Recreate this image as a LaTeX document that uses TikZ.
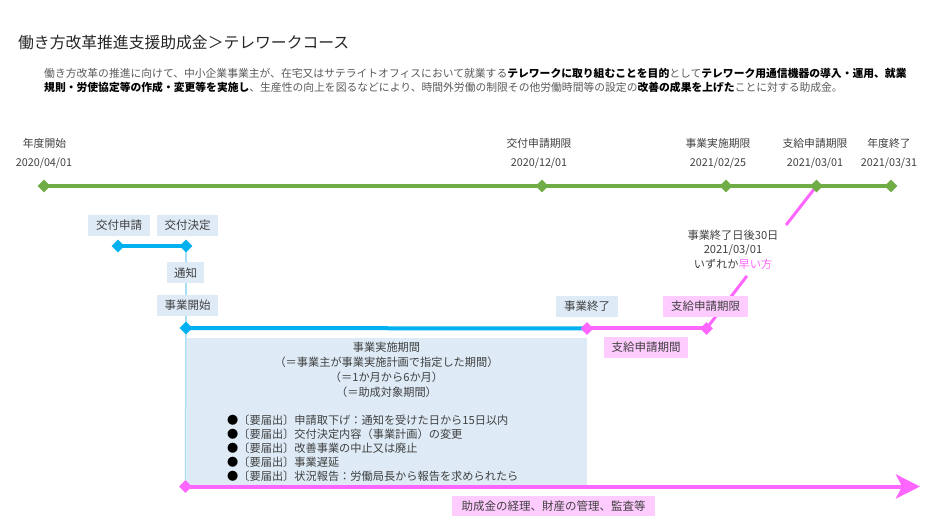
\documentclass[tikz,border=0pt]{standalone}
\usepackage{fontspec}
\setmainfont{Noto Sans CJK JP}
\usetikzlibrary{shapes.geometric,arrows.meta,backgrounds}
\definecolor{tlgreen}{HTML}{70AD47}
\definecolor{tlblue}{HTML}{00B0F0}
\definecolor{tlpink}{HTML}{FF66FF}
\definecolor{boxblue}{HTML}{DEEBF7}
\definecolor{boxpink}{HTML}{FFCCFF}
\definecolor{vlinec}{HTML}{A9DDF5}
\definecolor{txtc}{HTML}{404040}
\definecolor{descc}{HTML}{595959}
\begin{document}
\begin{tikzpicture}[x=1pt,y=-1pt,
  dia/.style={diamond, inner sep=0pt, minimum width=13pt, minimum height=13pt},
  gdia/.style={dia, fill=tlgreen},
  bdia/.style={dia, fill=tlblue},
  pdia/.style={dia, fill=tlpink},
  tl/.style={font=\fontsize{10.8}{12}\selectfont, text=txtc, inner sep=0pt},
  lbox/.style={fill=boxblue, text=txtc, font=\fontsize{11.5}{13}\selectfont, minimum height=21pt, inner sep=0pt},
  pbox/.style={fill=boxpink, text=txtc, font=\fontsize{11.5}{13}\selectfont, minimum height=21pt, inner sep=0pt},
  desctext/.style={font=\fontsize{10.8}{14}\selectfont, text=descc, inner sep=0pt, anchor=base west},
]
\useasboundingbox (0,0) rectangle (940,526);

% title and description
\node[anchor=west, font=\fontsize{15.8}{18}\selectfont, text=black!85, inner sep=0pt] (title) at (18,43) {働き方改革推進支援助成金＞テレワークコース};
\node[desctext] (desc1) at (44,77.5) {働き方改革の推進に向けて、中小企業事業主が、在宅又はサテライトオフィスにおいて就業する{\color{black}\bfseries テレワークに取り組むことを目的}として{\color{black}\bfseries テレワーク用通信機器の導入・運用、就業}};
\node[desctext] (desc2) at (44,91.5) {{\color{black}\bfseries 規則・労使協定等の作成・変更等を実施し}、生産性の向上を図るなどにより、時間外労働の制限その他労働時間等の設定の{\color{black}\bfseries 改善の成果を上げた}ことに対する助成金。};

% fiscal year timeline labels
\node[tl] (l1a) at (44.5,143) {年度開始};
\node[tl] (l1b) at (44,163) {2020/04/01};
\node[tl] (l2a) at (539,143) {交付申請期限};
\node[tl] (l2b) at (539,163) {2020/12/01};
\node[tl] (l3a) at (718,143) {事業実施期限};
\node[tl] (l3b) at (718,163) {2021/02/25};
\node[tl] (l4a) at (815,143) {支給申請期限};
\node[tl] (l4b) at (815,163) {2021/03/01};
\node[tl] (l5a) at (889,143) {年度終了};
\node[tl] (l5b) at (889,163) {2021/03/31};

% diamonds
\node[gdia] (g1) at (44,186) {};
\node[gdia] (g2) at (542,186) {};
\node[gdia] (g3) at (726,186) {};
\node[gdia] (g4) at (816.5,186) {};
\node[gdia] (g5) at (891,186) {};
\node[bdia] (b1) at (118,246) {};
\node[bdia] (b2) at (186,246) {};
\node[bdia] (ks) at (186,328) {};
\node[pdia] (pe1) at (587,328.5) {};
\node[pdia] (pe2) at (706.5,328.5) {};
\node[pdia] (ps) at (185.5,486.5) {};
\coordinate (aend) at (920,486.5);
\coordinate (c1) at (786.1,225);
\coordinate (c2) at (746.9,276);

\begin{scope}[on background layer]
  \node[fill=boxblue, minimum width=400pt, minimum height=147pt, inner sep=0pt, anchor=north west] (period) at (187,338) {};
  \draw[tlgreen, line width=4.5pt] (g1.center) -- (g5.center);
  \draw[vlinec, line width=1.5pt] (b2.center) -- (ks.center);
  \draw[vlinec, line width=1.5pt] (ks.center) -- (ps.center);
  \draw[tlblue, line width=4pt] (b1.center) -- (b2.center);
  \draw[tlblue, line width=4pt] (ks.center) -- (pe1.center);
  \draw[tlpink, line width=4pt] (pe1.center) -- (pe2.center);
  \draw[tlpink, line width=4pt, -{Stealth[length=24pt, width=24pt, inset=6pt]}] (ps.center) -- (aend);
  \draw[tlpink, line width=3pt] (g4.center) -- (c1);
  \draw[tlpink, line width=3pt] (c2) -- (pe2.center);
\end{scope}

\node[tl, font=\fontsize{11.2}{14.5}\selectfont, align=center] (note) at (733,249.5) {事業終了日後30日\\2021/03/01\\いずれか{\color{tlpink}早い方}};

% label boxes
\node[lbox, minimum width=62pt] (ksin) at (119,225.5) {交付申請};
\node[lbox, minimum width=61pt] (kket) at (187.5,225.5) {交付決定};
\node[lbox, minimum width=37pt] (tsuchi) at (185.5,273) {通知};
\node[lbox, minimum width=61pt] (kaishi) at (187.5,305.5) {事業開始};
\node[lbox, minimum width=62pt] (shuryo) at (587,306.5) {事業終了};
\node[pbox, minimum width=85pt] (kigen) at (705.5,306.5) {支給申請期限};
\node[pbox, minimum width=84pt] (kikan) at (646,347.5) {支給申請期間};
\node[pbox, minimum width=203pt, minimum height=20pt] (keiri) at (553.5,506) {助成金の経理、財産の管理、監査等};

% period texts
\node[tl, font=\fontsize{11.2}{14.8}\selectfont, align=center] (ptitle) at (386.5,370) {事業実施期間\\（＝事業主が事業実施計画で指定した期間）\\（＝1か月から6か月）\\（＝助成対象期間）};
\node[tl, font=\fontsize{11.2}{14}\selectfont, align=left, anchor=west] (plist) at (227,448) {{\color{black}●}〔要届出〕申請取下げ：通知を受けた日から15日以内\\{\color{black}●}〔要届出〕交付決定内容（事業計画）の変更\\{\color{black}●}〔要届出〕改善事業の中止又は廃止\\{\color{black}●}〔要届出〕事業遅延\\{\color{black}●}〔要届出〕状況報告：労働局長から報告を求められたら};
\end{tikzpicture}
\end{document}
